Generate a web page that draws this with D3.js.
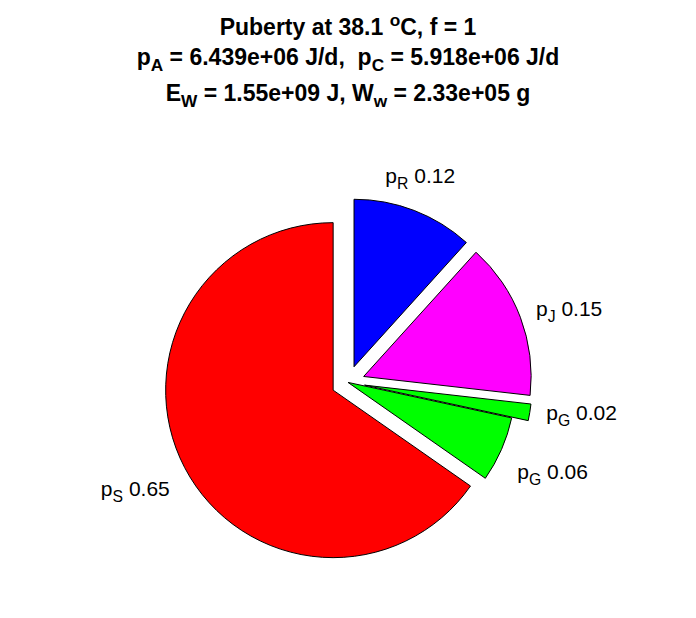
<!DOCTYPE html>
<html>
<head>
<meta charset="utf-8">
<script src="https://cdn.jsdelivr.net/npm/d3@7"></script>
<style>
  html, body { margin: 0; padding: 0; background: #fff; }
  svg { display: block; font-family: "Liberation Sans", Arial, Helvetica, sans-serif; }
</style>
</head>
<body>
<svg id="chart" width="696" height="618"></svg>
<script>
// ---- data (clockwise from 12 o'clock) ----
const fluxSymbols = ["R", "J", "G", "G", "S"];
const fluxFractions = [0.117, 0.151, 0.016, 0.063, 0.653];
const fluxLabels = ["0.12", "0.15", "0.02", "0.06", "0.65"];
const exploded = [true, true, true, false, true];
const sliceColors = ["#0000ff", "#ff00ff", "#00ff00", "#00ff00", "#ff0000"];

const titleTemp = "38.1";
const titleF = "1";
const pA = "6.439e+06";
const pC = "5.918e+06";
const EW = "1.55e+09";
const Ww = "2.33e+05";

// ---- layout ----
const svg = d3.select("#chart");
const cx = 348, cy = 382.4, R = 167.5;
const explodeDist = 0.1 * R;
const labelDist = 1.2 * R;
const labelFont = 21;
const titleFont = 23;
// small manual label nudges (x, y) per slice, as in the reference
const labelNudge = [[0, 0], [0, 0], [0, 0], [-15, -5], [0, 0]];

const slices = fluxSymbols.map((s, i) => ({ sym: s, value: fluxFractions[i], lab: fluxLabels[i], exp: exploded[i], color: sliceColors[i], i }));

const pie = d3.pie().sort(null).value(d => d.value).startAngle(0).endAngle(2 * Math.PI);
const arc = d3.arc().innerRadius(0).outerRadius(R);
const arcs = pie(slices);

const g = svg.append("g");
arcs.forEach(a => {
  const mid = (a.startAngle + a.endAngle) / 2;
  const ox = a.data.exp ? Math.sin(mid) * explodeDist : 0;
  const oy = a.data.exp ? -Math.cos(mid) * explodeDist : 0;
  g.append("path")
    .attr("d", arc(a))
    .attr("transform", `translate(${cx + ox},${cy + oy})`)
    .attr("fill", a.data.color)
    .attr("stroke", "#000")
    .attr("stroke-width", 1)
    .attr("stroke-linejoin", "miter");
});

// labels
arcs.forEach(a => {
  const mid = (a.startAngle + a.endAngle) / 2;
  const sx = Math.sin(mid), cyy = Math.cos(mid);
  let tx = cx + sx * labelDist;
  let ty = cy - cyy * labelDist;
  const anchor = sx > 0.5 ? "start" : (sx < -0.5 ? "end" : "middle");
  let base;
  if (cyy > 0.7) base = ty - 12;
  else if (cyy > -0.3) base = ty + 5;
  else base = ty + 21;
  const nd = labelNudge[a.data.i];
  const t = svg.append("text")
    .attr("x", tx + nd[0]).attr("y", base + nd[1])
    .attr("text-anchor", anchor)
    .attr("font-size", labelFont)
    .attr("fill", "#000");
  t.append("tspan").text("p");
  t.append("tspan").attr("font-size", labelFont * 0.75).attr("dy", 6).text(a.data.sym);
  t.append("tspan").attr("dy", -6).text("\u00a0" + a.data.lab);
});

// title
const title = svg.append("g").attr("font-weight", "bold").attr("font-size", titleFont).attr("text-anchor", "middle").attr("fill", "#000");
const subF = titleFont * 0.75;
const l1 = title.append("text").attr("x", 348).attr("y", 35);
l1.append("tspan").text(`Puberty at ${titleTemp} `);
l1.append("tspan").attr("font-size", subF).attr("dy", -9).text("o");
l1.append("tspan").attr("dy", 9).text(`C, f = ${titleF}`);

const l2 = title.append("text").attr("x", 348).attr("y", 65);
l2.append("tspan").text("p");
l2.append("tspan").attr("font-size", subF).attr("dy", 6).text("A");
l2.append("tspan").attr("dy", -6).text(` = ${pA} J/d,\u00a0 p`);
l2.append("tspan").attr("font-size", subF).attr("dy", 6).text("C");
l2.append("tspan").attr("dy", -6).text(` = ${pC} J/d`);

const l3 = title.append("text").attr("x", 348).attr("y", 101);
l3.append("tspan").text("E");
l3.append("tspan").attr("font-size", subF).attr("dy", 6).text("W");
l3.append("tspan").attr("dy", -6).text(` = ${EW} J, W`);
l3.append("tspan").attr("font-size", subF).attr("dy", 6).text("w");
l3.append("tspan").attr("dy", -6).text(` = ${Ww} g`);
</script>
</body>
</html>
